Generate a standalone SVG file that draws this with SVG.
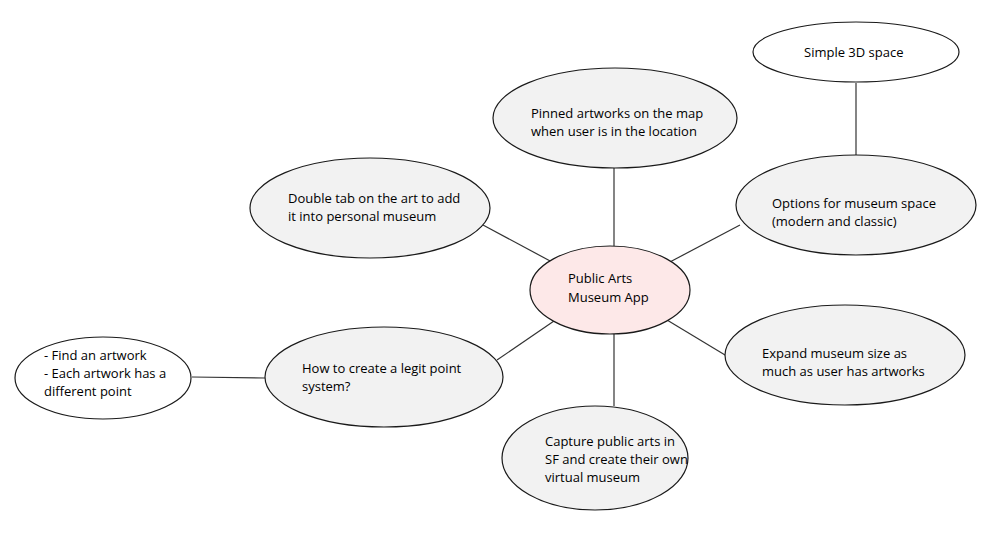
<svg xmlns="http://www.w3.org/2000/svg" width="994" height="535" viewBox="0 0 994 535">
<style>
.n{stroke:#1a1a1a;stroke-width:1.2;fill:#f2f2f2}
.w{fill:#ffffff}
.c{fill:#fde8e8}
.t{font-family:"Open Sans",sans-serif;font-size:13px;font-weight:500;fill:#000000}
.e line{stroke:#333;stroke-width:1.2}
</style>
<rect width="994" height="535" fill="#ffffff"/>
<g class="e" id="connectors">
<line x1="614" y1="168" x2="614" y2="246"/>
<line x1="483" y1="225" x2="552" y2="262"/>
<line x1="668" y1="263" x2="740" y2="225"/>
<line x1="667" y1="320" x2="730" y2="358"/>
<line x1="614" y1="334" x2="614" y2="406"/>
<line x1="554" y1="321" x2="497" y2="360"/>
<line x1="192" y1="377" x2="265" y2="378"/>
<line x1="856" y1="83" x2="856" y2="155"/>
</g>
<g id="center"><ellipse class="n c" cx="610" cy="290" rx="80" ry="44"/><text class="t" x="568" y="283">Public Arts</text><text class="t" x="568" y="302">Museum App</text></g>
<g id="pinned"><ellipse class="n" cx="615" cy="118" rx="122" ry="50"/><text class="t" x="531" y="118">Pinned artworks on the map</text><text class="t" x="531" y="136">when user is in the location</text></g>
<g id="doubletab"><ellipse class="n" cx="370" cy="208" rx="120" ry="50"/><text class="t" x="288" y="203">Double tab on the art to add</text><text class="t" x="288" y="221">it into personal museum</text></g>
<g id="simple3d"><ellipse class="n w" cx="856" cy="52" rx="103" ry="30"/><text class="t" x="804" y="57">Simple 3D space</text></g>
<g id="options"><ellipse class="n" cx="856" cy="205" rx="120" ry="50"/><text class="t" x="772" y="208">Options for museum space</text><text class="t" x="772" y="226">(modern and classic)</text></g>
<g id="expand"><ellipse class="n" cx="845" cy="355" rx="120" ry="50"/><text class="t" x="762" y="358">Expand museum size as</text><text class="t" x="762" y="376">much as user has artworks</text></g>
<g id="capture"><ellipse class="n" cx="595" cy="458" rx="93" ry="52"/><text class="t" x="545" y="446">Capture public arts in</text><text class="t" x="545" y="464">SF and create their own</text><text class="t" x="545" y="482">virtual museum</text></g>
<g id="howto"><ellipse class="n" cx="384" cy="377" rx="119" ry="50"/><text class="t" x="302" y="373">How to create a legit point</text><text class="t" x="302" y="391">system?</text></g>
<g id="find"><ellipse class="n w" cx="103" cy="378" rx="88" ry="41"/><text class="t" x="44" y="360">- Find an artwork</text><text class="t" x="44" y="378">- Each artwork has a</text><text class="t" x="44" y="396">different point</text></g>
</svg>
